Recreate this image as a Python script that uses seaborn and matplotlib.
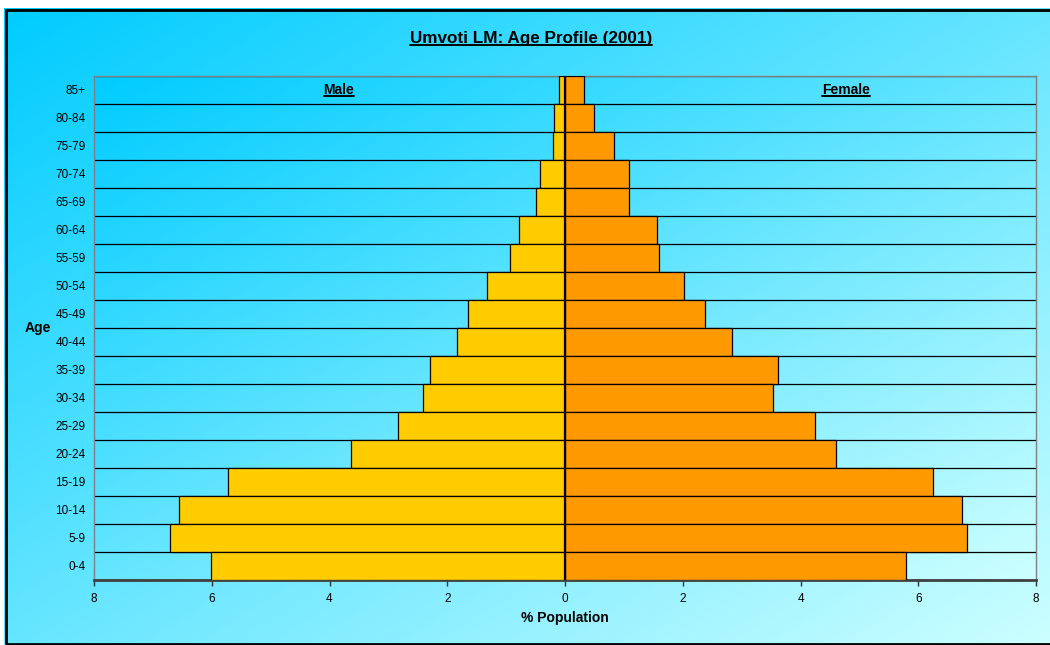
import numpy as np
import pandas as pd
import matplotlib
matplotlib.use("Agg")
import matplotlib.pyplot as plt
from matplotlib.colors import LinearSegmentedColormap
from matplotlib.patches import Rectangle
from matplotlib.lines import Line2D
from matplotlib.ticker import FixedLocator, FuncFormatter
import seaborn as sns

# Age groups from oldest (top) to youngest (bottom)
age_groups = ["85+", "80-84", "75-79", "70-74", "65-69", "60-64", "55-59",
              "50-54", "45-49", "40-44", "35-39", "30-34", "25-29", "20-24",
              "15-19", "10-14", "5-9", "0-4"]
# Share of total population (%)
male_pct = [0.11, 0.19, 0.21, 0.43, 0.50, 0.78, 0.94, 1.33, 1.64, 1.83,
            2.29, 2.42, 2.84, 3.64, 5.73, 6.56, 6.71, 6.02]
female_pct = [0.32, 0.49, 0.84, 1.09, 1.09, 1.57, 1.60, 2.02, 2.37, 2.83,
              3.62, 3.54, 4.25, 4.61, 6.25, 6.75, 6.82, 5.80]
x_ticks = [-8, -6, -4, -2, 0, 2, 4, 6, 8]

df = pd.DataFrame({
    "age": age_groups,
    "male": [-v for v in male_pct],
    "female": female_pct,
})

sns.set_theme(style="white")
plt.rcParams["font.family"] = ["Liberation Sans", "DejaVu Sans"]
plt.rcParams.update({
    "text.color": "black",
    "axes.labelcolor": "black",
    "xtick.color": "black",
    "ytick.color": "black",
})

W, H = 1050, 645
fig = plt.figure(figsize=(W / 100, H / 100), dpi=100, facecolor="white")


def px_rect(x0, y0, x1, y1):
    """Figure-fraction rectangle from pixel corners (origin top-left)."""
    return [x0 / W, 1 - y1 / H, (x1 - x0) / W, (y1 - y0) / H]


sky = LinearSegmentedColormap.from_list("sky", ["#00CCFF", "#CCFFFF"])
u = np.linspace(0, 1, 256)
diag = (u[None, :] + u[:, None]) / 2

# chart-area background
bg = fig.add_axes(px_rect(4, 8, 1050, 645), zorder=0)
bg.imshow(diag, cmap=sky, extent=[0, 1, 0, 1], aspect="auto",
          interpolation="bilinear")
bg.set_axis_off()

# chart-area frame
fig.add_artist(Rectangle((5.5 / W, 1 - 643.5 / H), (1070 - 5.5) / W,
                         (643.5 - 9.5) / H, transform=fig.transFigure,
                         fill=False, ec="black", lw=2.0, zorder=5))

ax = fig.add_axes(px_rect(94, 76, 1036, 580), zorder=1)
ax.patch.set_alpha(0)
ax.imshow(diag, cmap=sky, extent=[0, 1, 0, 1], transform=ax.transAxes,
          aspect="auto", interpolation="bilinear", zorder=0)

sns.barplot(data=df, x="male", y="age", order=age_groups, orient="h",
            color="#FFCC00", saturation=1, width=1, edgecolor="black",
            linewidth=0.9, errorbar=None, ax=ax, zorder=3)
sns.barplot(data=df, x="female", y="age", order=age_groups, orient="h",
            color="#FF9900", saturation=1, width=1, edgecolor="black",
            linewidth=0.9, errorbar=None, ax=ax, zorder=3)

ax.set_xlim(-8, 8)
ax.set_ylim(len(age_groups) - 0.5, -0.5)

# horizontal lines between age groups
ax.yaxis.set_minor_locator(FixedLocator(np.arange(-0.5, len(age_groups), 1)))
ax.grid(False)
ax.grid(which="minor", axis="y", color="black", lw=0.9)
ax.set_axisbelow(True)

ax.axvline(0, color="black", lw=1.6, zorder=4)

ax.set_xticks(x_ticks)
ax.xaxis.set_major_formatter(FuncFormatter(lambda v, p: f"{abs(v):.0f}"))
ax.tick_params(axis="x", direction="out", length=4, width=1,
               color="#333333", labelcolor="black", pad=5.5, labelsize=8.5,
               bottom=True)
ax.tick_params(axis="y", which="both", length=0, pad=6, labelsize=8.5,
               labelcolor="black")

for side in ["top", "right", "left"]:
    ax.spines[side].set_color("#808080")
    ax.spines[side].set_linewidth(1)
ax.spines["bottom"].set_color("#404040")
ax.spines["bottom"].set_linewidth(2)

ax.set_xlabel("% Population", fontweight="bold", fontsize=10, labelpad=4.5,
              color="black")
ax.set_ylabel("Age", rotation=0, fontweight="bold", fontsize=10,
              ha="center", va="center", color="black")
ax.yaxis.set_label_coords((38 - 94) / 942, 0.5)

title = fig.text(531 / W, 1 - 38 / H, "Umvoti LM: Age Profile (2001)",
                 ha="center", va="center", fontweight="bold", fontsize=12.3,
                 color="black")
male_lbl = ax.text(0.26, 0, "Male", transform=ax.get_yaxis_transform(),
                   ha="center", va="center", fontweight="bold", fontsize=10,
                   color="black", zorder=6)
female_lbl = ax.text(0.798, 0, "Female", transform=ax.get_yaxis_transform(),
                     ha="center", va="center", fontweight="bold",
                     fontsize=10, color="black", zorder=6)

# underline the headings
fig.canvas.draw()
renderer = fig.canvas.get_renderer()
for t in (title, male_lbl, female_lbl):
    bb = t.get_window_extent(renderer)
    descent = renderer.get_text_width_height_descent(
        "lp", t.get_fontproperties(), ismath=False)[2]
    y = bb.y0 + descent - 2.0
    fig.add_artist(Line2D([bb.x0 / W, bb.x1 / W], [y / H, y / H],
                          transform=fig.transFigure, color="black",
                          lw=1.4, zorder=7))

fig.savefig("out.png", dpi=100, facecolor="white")
